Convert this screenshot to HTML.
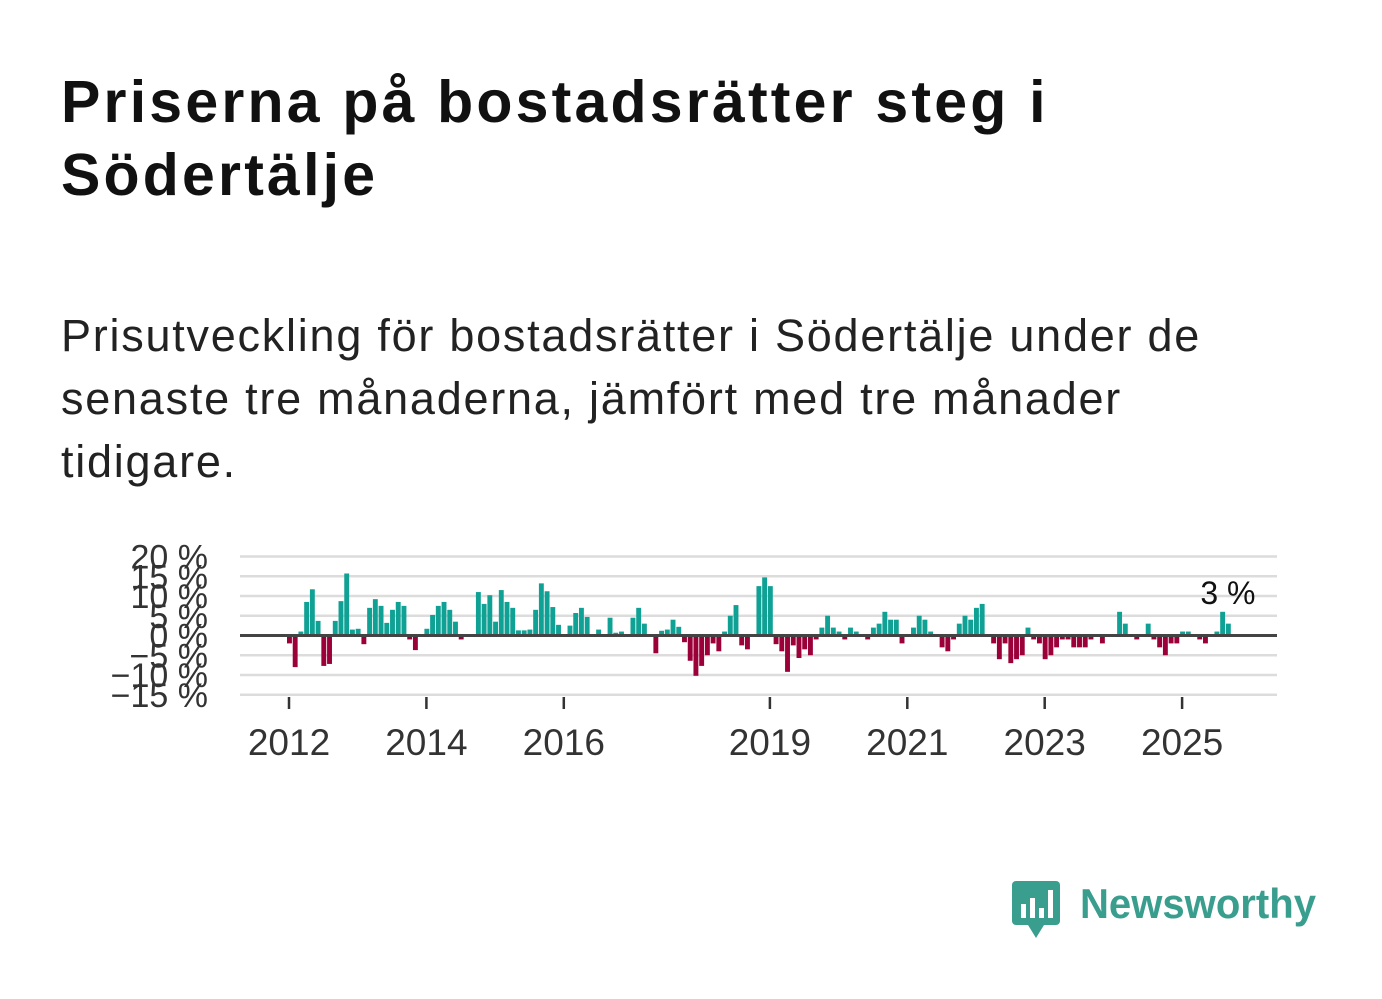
<!DOCTYPE html>
<html><head><meta charset="utf-8"><style>
body{margin:0;width:1382px;height:999px;background:#fff;overflow:hidden;font-family:"Liberation Sans",sans-serif;position:relative}
#title{position:absolute;left:61px;top:66px;font-size:59px;letter-spacing:3.2px;font-weight:bold;color:#111;line-height:73px;margin:0;white-space:nowrap}
#sub{position:absolute;left:61px;top:304px;font-size:45px;letter-spacing:1.75px;color:#222;line-height:63px;margin:0;white-space:nowrap}
#chart{position:absolute;left:0;top:0}
#logo{position:absolute;left:1010px;top:878px}
</style></head><body>
<h1 id="title">Priserna på bostadsrätter steg i<br>Södertälje</h1>
<p id="sub">Prisutveckling för bostadsrätter i Södertälje under de<br>senaste tre månaderna, jämfört med tre månader<br>tidigare.</p>
<svg id="chart" width="1382" height="800"></svg>
<div id="logo">
<svg width="330" height="64"><rect x="2" y="3" width="48" height="44" rx="4" fill="#3a9e8f"/><polygon points="18,47 34,47 26,60" fill="#3a9e8f"/>
<rect x="11" y="26" width="5" height="14" fill="#fff"/><rect x="20" y="20" width="5" height="20" fill="#fff"/><rect x="29" y="30" width="5" height="10" fill="#fff"/><rect x="38" y="12" width="5" height="28" fill="#fff"/>
<text x="70" y="40" font-family="Liberation Sans, sans-serif" font-size="42" font-weight="bold" fill="#3a9e8f" textLength="236" lengthAdjust="spacingAndGlyphs">Newsworthy</text></svg></div>
<script>
const yTicks=[20,15,10,5,0,-5,-10,-15];
const yTickLabels=["20 %","15 %","10 %","5 %","0 %","−5 %","−10 %","−15 %"];
const xTickYears=[2012,2014,2016,2019,2021,2023,2025];
const values=[-2,-8,1,8.5,11.7,3.7,-7.7,-7.2,3.7,8.7,15.7,1.5,1.7,-2.2,7,9.2,7.5,3.2,6.5,8.5,7.5,-1,-3.7,0,1.7,5.2,7.5,8.5,6.5,3.5,-1,0,0,11,8,10.2,3.5,11.5,8.5,7,1.3,1.3,1.5,
6.5,13.2,11.2,7.2,2.7,0,2.5,5.7,7,4.7,0,1.5,0,4.5,0.7,1,0,4.5,7,3,0,-4.5,1.2,1.5,4,2.2,-1.7,-6.4,-10.2,-7.7,-5,-2,-4,1,5,7.7,-2.5,-3.5,0,12.5,14.7,12.5,
-2.2,-4,-9.2,-2.5,-5.7,-3.5,-5,-1,2,5,2,1,-1,2,1,0,-1,2,3,6,4,4,-2,0,2,5,4,1,0,-3,-4,-1,3,5,4,7,8,0,-2,-6,
-2,-7,-6,-5,2,-1,-2,-6,-5,-3,-1,-1,-3,-3,-3,-1,0,-2,0,0,6,3,0,-1,0,3,-1,-3,-5,-2,-2,1,1,0,-1,-2,0,1,6,3];
const startYear=2012;
const lastLabel="3 %";
const svg=document.getElementById('chart');const NS='http://www.w3.org/2000/svg';
const y0=635.5,pxPer=3.95,x0=288,pxMonth=5.725;
const Y=v=>y0-v*pxPer, X=m=>x0+m*pxMonth;
function mk(t,a){const e=document.createElementNS(NS,t);for(const k in a)e.setAttribute(k,a[k]);svg.appendChild(e);return e;}
yTicks.forEach((v,i)=>{if(v!==0){const l=mk('line',{x1:240,x2:1277,y1:Y(v),y2:Y(v),stroke:'#dcdcdc','stroke-width':2.5});

}
const t=mk('text',{x:208,y:Y(v)+12,'text-anchor':'end','font-size':34,fill:'#333','font-family':'Liberation Sans, sans-serif'});
t.textContent=yTickLabels[i];

});
values.forEach((v,m)=>{if(v===0)return;const r=mk('rect',{x:X(m)-1,y:Math.min(Y(v),y0),width:4.9,height:Math.abs(v)*pxPer,fill:v>0?'#10a195':'#9b0039'});

});
const z=mk('line',{x1:240,x2:1277,y1:y0,y2:y0,stroke:'#444','stroke-width':3});


xTickYears.forEach(yr=>{const x=X((yr-startYear)*12)+1;
const tk=mk('line',{x1:x,x2:x,y1:697,y2:709,stroke:'#333','stroke-width':2.5});


const t=mk('text',{x:x,y:755,'text-anchor':'middle','font-size':37,fill:'#333','font-family':'Liberation Sans, sans-serif'});
t.textContent=yr;

});
const lm=values.length-1;
const lb=mk('text',{x:X(lm)+1,y:604,'text-anchor':'middle','font-size':32,fill:'#111','font-family':'Liberation Sans, sans-serif'});
lb.textContent=lastLabel;


</script>
</body></html>
